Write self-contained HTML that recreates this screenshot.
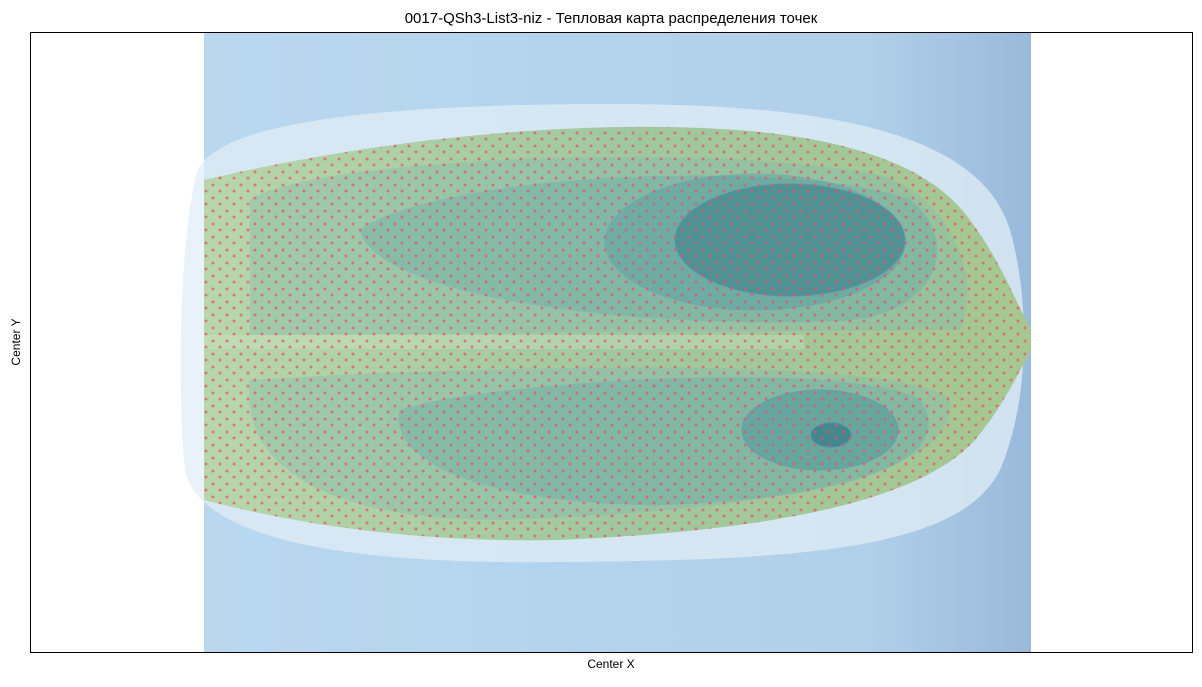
<!DOCTYPE html>
<html><head><meta charset="utf-8"><style>
body{margin:0;background:#fff;width:1202px;height:682px;overflow:hidden;font-family:"Liberation Sans","DejaVu Sans",sans-serif}
</style></head><body>
<svg width="1202" height="682" xmlns="http://www.w3.org/2000/svg">
<defs>
<linearGradient id="bg" x1="0" y1="0" x2="1" y2="0">
<stop offset="0" stop-color="#b9d8f0"/><stop offset="0.8" stop-color="#b0d0ea"/><stop offset="1" stop-color="#9ab9da"/>
</linearGradient>
<linearGradient id="leaf" x1="0" y1="0" x2="1" y2="0">
<stop offset="0" stop-color="#b8d6aa"/><stop offset="0.5" stop-color="#a0c8a0"/><stop offset="1" stop-color="#a6c890"/>
</linearGradient>
<pattern id="dots" width="14" height="13" patternUnits="userSpaceOnUse">
<circle cx="3" cy="3" r="1.5" fill="#e8506a"/><circle cx="10" cy="9" r="1.5" fill="#e8506a"/>
</pattern>
<clipPath id="lc"><path d="M204,180 C330,150 500,125 660,127 C800,128 920,150 970,220 C1000,260 1015,300 1031,330 L1031,350 C1015,380 1000,410 975,440 C920,500 780,530 560,540 C420,543 300,525 204,500 Z"/></clipPath>
</defs>
<text x="611" y="23" text-anchor="middle" font-size="15" fill="#000">0017-QSh3-List3-niz - Тепловая карта распределения точек</text>
<g>
<rect x="204" y="32" width="827" height="620" fill="url(#bg)"/>
<path d="M195,180 C200,130 330,105 600,104 C820,103 980,130 1010,230 C1030,300 1030,400 1000,470 C960,550 800,560 560,562 C350,565 200,540 185,470 C178,400 178,260 195,180 Z" fill="#e2edf6" opacity="0.75"/>
<path d="M204,180 C330,150 500,125 660,127 C800,128 920,150 970,220 C1000,260 1015,300 1031,330 L1031,350 C1015,380 1000,410 975,440 C920,500 780,530 560,540 C420,543 300,525 204,500 Z" fill="url(#leaf)"/>
<g clip-path="url(#lc)">
<path d="M250,200 C300,160 700,140 880,175 C960,200 980,290 960,330 L250,335 Z" fill="#7ab6b0" opacity="0.35"/>
<path d="M250,380 C400,370 900,350 950,400 C960,470 800,510 500,520 C300,520 240,450 250,380 Z" fill="#7ab6b0" opacity="0.35"/>
<path d="M360,230 C450,170 800,160 910,200 C960,240 940,310 850,320 C650,330 380,300 360,230 Z" fill="#5aa2a8" opacity="0.3" stroke="#5aa0c8" stroke-width="1"/>
<path d="M400,410 C500,380 850,360 920,400 C960,460 850,500 650,505 C450,500 390,450 400,410 Z" fill="#5aa2a8" opacity="0.3" stroke="#5aa0c8" stroke-width="1"/>
<ellipse cx="755" cy="242" rx="150" ry="68" fill="#4a94a0" opacity="0.35" stroke="#4a90c0"/>
<ellipse cx="790" cy="240" rx="115" ry="56" fill="#2c7484" opacity="0.45" stroke="#3a7ab8"/>
<ellipse cx="820" cy="430" rx="78" ry="40" fill="#3d8c98" opacity="0.4" stroke="#3a7ab8"/>
<ellipse cx="831" cy="435" rx="20" ry="12" fill="#2a6e80" opacity="0.55" stroke="#3a7ab8"/>
<rect x="204" y="335" width="600" height="14" fill="#d0e4c8" opacity="0.35"/>
<rect x="204" y="100" width="830" height="460" fill="url(#dots)" opacity="0.7"/>
</g>
</g>
<rect x="30.5" y="32.5" width="1162" height="620" fill="none" stroke="#000" stroke-width="1"/>
<text x="611" y="668" text-anchor="middle" font-size="12">Center X</text>
<text x="20" y="342" text-anchor="middle" font-size="12" transform="rotate(-90 20 342)">Center Y</text>
</svg>
</body></html>
